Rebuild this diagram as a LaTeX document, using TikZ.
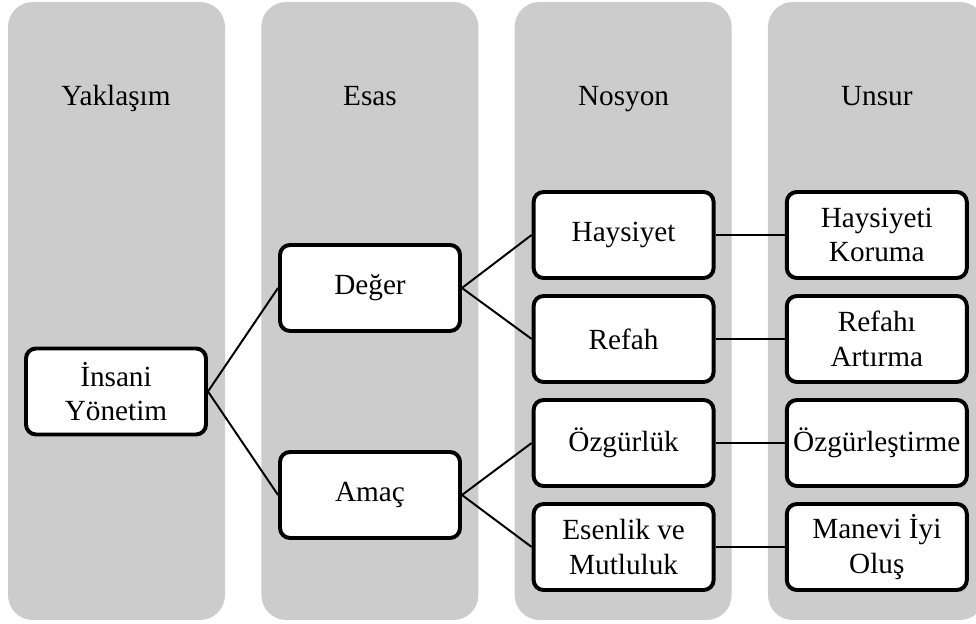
\documentclass[tikz,border=0pt]{standalone}
\usepackage{fontspec}
\setmainfont{Liberation Serif}
\begin{document}
\begin{tikzpicture}[
    kutu/.style={draw=black, line width=2.8pt, rounded corners=0.25cm, fill=white,
        minimum width=4.5cm, minimum height=2.15cm, align=center,
        font=\fontsize{20.8}{24.5}\selectfont},
    baslik/.style={anchor=base, font=\fontsize{20.8}{24.5}\selectfont},
    bag/.style={line width=1.4pt}
]

\clip (0,0) rectangle (24.4,15.6);  % page size

% gray columns
\foreach \i in {0,1,2,3}
    \fill[gray!40, rounded corners=0.625cm] (0.2 + \i*6.333, 0.1) rectangle (5.625 + \i*6.333, 15.55);

% column titles
\node[baslik] (yaklasim) at (2.9, 12.95) {Yaklaşım};
\node[baslik] (esas) at (9.25, 12.95) {Esas};
\node[baslik] (nosyon) at (15.59, 12.95) {Nosyon};
\node[baslik] (unsur) at (21.92, 12.95) {Unsur};

\node[kutu] (insani) at (2.9, 5.8125) {İnsani\\Yönetim};

\node[kutu] (deger) at (9.25, 8.4) {Değer};
\node[kutu] (amac) at (9.25, 3.225) {Amaç};

\node[kutu] (haysiyet) at (15.59, 9.725) {Haysiyet};
\node[kutu] (refah) at (15.59, 7.125) {Refah};
\node[kutu] (ozgurluk) at (15.59, 4.525) {Özgürlük};
\node[kutu] (esenlik) at (15.59, 1.925) {Esenlik ve\\Mutluluk};

\node[kutu] (koruma) at (21.92, 9.725) {Haysiyeti\\Koruma};
\node[kutu] (artirma) at (21.92, 7.125) {Refahı\\Artırma};
\node[kutu] (ozgurlestirme) at (21.92, 4.525) {Özgürleştirme};
\node[kutu] (manevi) at (21.92, 1.925) {Manevi İyi\\Oluş};

\draw[bag] (insani.east) -- (deger.west);
\draw[bag] (insani.east) -- (amac.west);
\draw[bag] (deger.east) -- (haysiyet.west);
\draw[bag] (deger.east) -- (refah.west);
\draw[bag] (amac.east) -- (ozgurluk.west);
\draw[bag] (amac.east) -- (esenlik.west);

\draw[bag] (haysiyet) -- (koruma);
\draw[bag] (refah) -- (artirma);
\draw[bag] (ozgurluk) -- (ozgurlestirme);
\draw[bag] (esenlik) -- (manevi);

\end{tikzpicture}
\end{document}
